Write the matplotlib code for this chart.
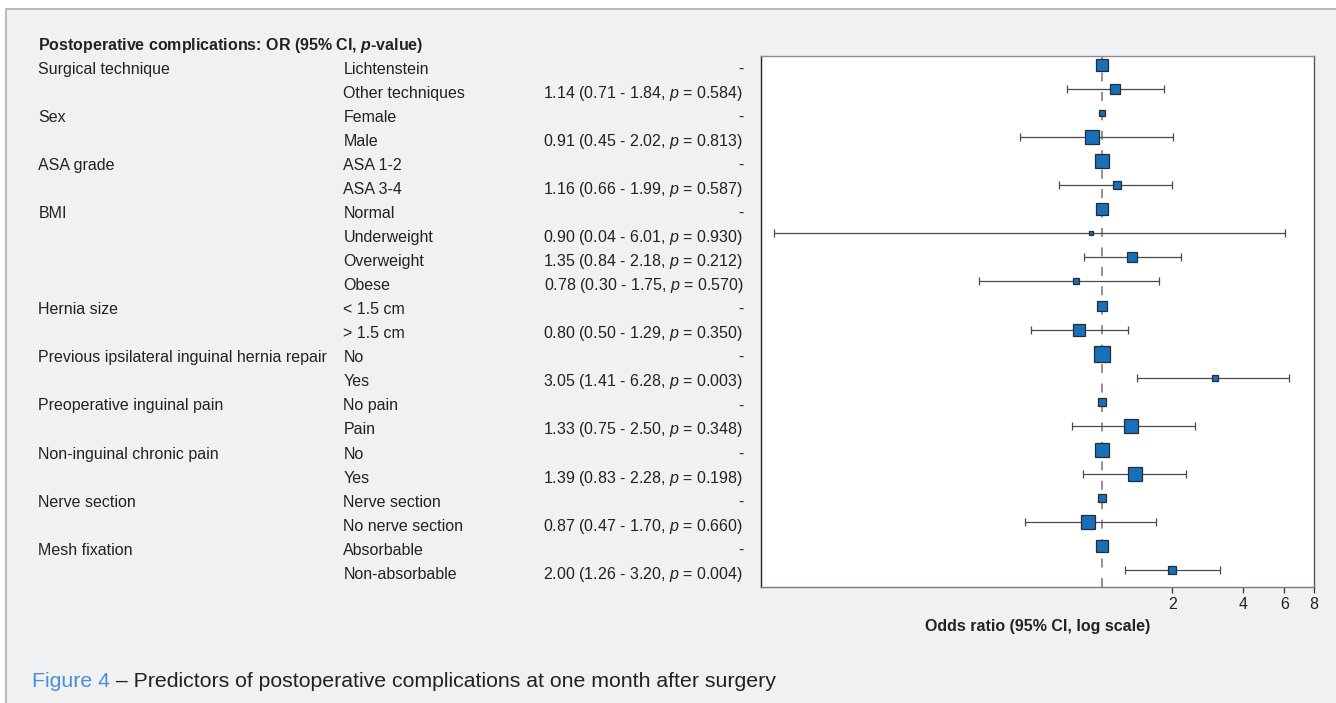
import numpy as np
import matplotlib
matplotlib.use("Agg")
import matplotlib.pyplot as plt
from matplotlib.patches import Rectangle
from matplotlib.transforms import blended_transform_factory
from matplotlib.ticker import FixedLocator, FixedFormatter, NullLocator

plt.rcParams.update({
    "font.family": ["Liberation Sans", "DejaVu Sans"],
    "mathtext.fontset": "custom",
    "mathtext.rm": "Liberation Sans",
    "mathtext.it": "Liberation Sans:italic",
    "mathtext.bf": "Liberation Sans:bold",
    "mathtext.bfit": "Liberation Sans:italic:bold",
    "lines.scale_dashes": False,
})

nan = np.nan

# Predictor groups and their levels (first level is the reference)
variables = ["Surgical technique", "Sex", "ASA grade", "BMI", "Hernia size",
             "Previous ipsilateral inguinal hernia repair",
             "Preoperative inguinal pain", "Non-inguinal chronic pain",
             "Nerve section", "Mesh fixation"]
levels = [
    ["Lichtenstein", "Other techniques"],
    ["Female", "Male"],
    ["ASA 1-2", "ASA 3-4"],
    ["Normal", "Underweight", "Overweight", "Obese"],
    ["< 1.5 cm", "> 1.5 cm"],
    ["No", "Yes"],
    ["No pain", "Pain"],
    ["No", "Yes"],
    ["Nerve section", "No nerve section"],
    ["Absorbable", "Non-absorbable"],
]

odds_ratio = [1, 1.14, 1, 0.91, 1, 1.16, 1, 0.90, 1.35, 0.78, 1, 0.80,
              1, 3.05, 1, 1.33, 1, 1.39, 1, 0.87, 1, 2.00]
ci_low = [nan, 0.71, nan, 0.45, nan, 0.66, nan, 0.04, 0.84, 0.30, nan, 0.50,
          nan, 1.41, nan, 0.75, nan, 0.83, nan, 0.47, nan, 1.26]
ci_high = [nan, 1.84, nan, 2.02, nan, 1.99, nan, 6.01, 2.18, 1.75, nan, 1.29,
           nan, 6.28, nan, 2.50, nan, 2.28, nan, 1.70, nan, 3.20]
p_value = [nan, 0.584, nan, 0.813, nan, 0.587, nan, 0.930, 0.212, 0.570, nan, 0.350,
           nan, 0.003, nan, 0.348, nan, 0.198, nan, 0.660, nan, 0.004]
# Relative weight of each level (drawn as box size)
weights = [11.7, 11, 7.3, 15, 15, 8.7, 12, 4, 11.3, 7, 10, 13.3,
           15.7, 6.7, 9.3, 14.3, 14, 14.3, 8, 15, 12.3, 9.3]

x_ticks = [2, 4, 6, 8]

TEXT = "#222222"
BLUE = "#1670bb"
BG = "#f0f1f3"

W, H, DPI = 1336, 703, 100
fig = plt.figure(figsize=(W / DPI, H / DPI), dpi=DPI, facecolor="white")

# Panel background with a thin top/left border
fig.patches.append(Rectangle((6 / W, -0.05), 1.2, 1 - 9 / H + 0.05,
                             transform=fig.transFigure, facecolor=BG,
                             edgecolor="#b8b8b8", linewidth=1.4, zorder=-5))

ax = fig.add_axes([760.7 / W, 1 - 586.5 / H, (1313.7 - 760.7) / W, (586.5 - 56) / H])
ax.set_facecolor("white")

n = len(odds_ratio)
rows = np.arange(n)
odds = np.array(odds_ratio, float)
lo = np.array(ci_low, float)
hi = np.array(ci_high, float)

# Reference line at OR = 1
ax.axvline(1, color="#7f7f7f", linewidth=1.2, dashes=(6.5, 7.5), zorder=1)

# Confidence intervals
has_ci = ~np.isnan(lo)
ax.errorbar(odds[has_ci], rows[has_ci],
            xerr=[odds[has_ci] - lo[has_ci], hi[has_ci] - odds[has_ci]],
            fmt="none", ecolor="#4a4a4a", elinewidth=0.9, capsize=2.6,
            capthick=0.9, zorder=2)

# Point estimates, box size by weight
for y, x, w in zip(rows, odds, weights):
    ax.plot(x, y, marker="s", markersize=(w - 0.6) * 0.72, color=BLUE,
            markeredgecolor="#2b2b2b", markeredgewidth=0.9, linestyle="none",
            zorder=3)

ax.set_xscale("log", base=2)
ax.set_xlim(0.0352, 8)
ax.set_ylim(21.68, -0.374)
ax.xaxis.set_major_locator(FixedLocator(x_ticks))
ax.xaxis.set_major_formatter(FixedFormatter([str(t) for t in x_ticks]))
ax.xaxis.set_minor_locator(NullLocator())
ax.yaxis.set_major_locator(NullLocator())
ax.yaxis.set_minor_locator(NullLocator())
ax.tick_params(axis="x", direction="out", length=4, width=0.9, color="#333333",
               pad=3.5, labelsize=11.5, labelcolor=TEXT)

ax.spines["left"].set_color("#222222")
ax.spines["top"].set_color("#8a8a8a")
ax.spines["right"].set_color("#555555")
ax.spines["bottom"].set_color("#7a7a7a")
for s in ax.spines.values():
    s.set_linewidth(1.0)

ax.set_xlabel("Odds ratio (95% CI, log scale)", fontsize=11.5, fontweight="bold",
              color=TEXT)
ax.xaxis.set_label_coords(0.5, -(619 - 586.5) / (586.5 - 56))
ax.xaxis.label.set_va("top")

# Table text to the left of the plot
tr = blended_transform_factory(fig.transFigure, ax.transData)
dy = 0.36
fig.text(38.3 / W, -0.62, r"Postoperative complications: OR (95% CI, $\mathbfit{p}$-value)",
         transform=tr, fontsize=11.5, fontweight="bold", color=TEXT, va="baseline")

i = 0
for var, levs in zip(variables, levels):
    fig.text(38.3 / W, i + dy, var, transform=tr, fontsize=11.5, color=TEXT,
             va="baseline")
    for lev in levs:
        fig.text(343.3 / W, i + dy, lev, transform=tr, fontsize=11.5, color=TEXT,
                 va="baseline")
        if np.isnan(p_value[i]):
            label = "-"
        else:
            label = (f"{odds_ratio[i]:.2f} ({ci_low[i]:.2f} - {ci_high[i]:.2f}, "
                     f"$\\it{{p}}$ = {p_value[i]:.3f})")
        fig.text(743.3 / W, i + dy, label, transform=tr, fontsize=11.5, color=TEXT,
                 va="baseline", ha="right")
        i += 1

# Figure caption
cap_head = fig.text(31.7 / W, 1 - 687 / H, "Figure 4", fontsize=15.3,
                    color="#4a8fd6", va="baseline")
fig.canvas.draw()
bb = cap_head.get_window_extent()
fig.text(bb.x1 / W, 1 - 687 / H,
         " \u2013 Predictors of postoperative complications at one month after surgery",
         fontsize=15.3, color=TEXT, va="baseline")

fig.savefig("out.png", dpi=DPI, facecolor=fig.get_facecolor())
